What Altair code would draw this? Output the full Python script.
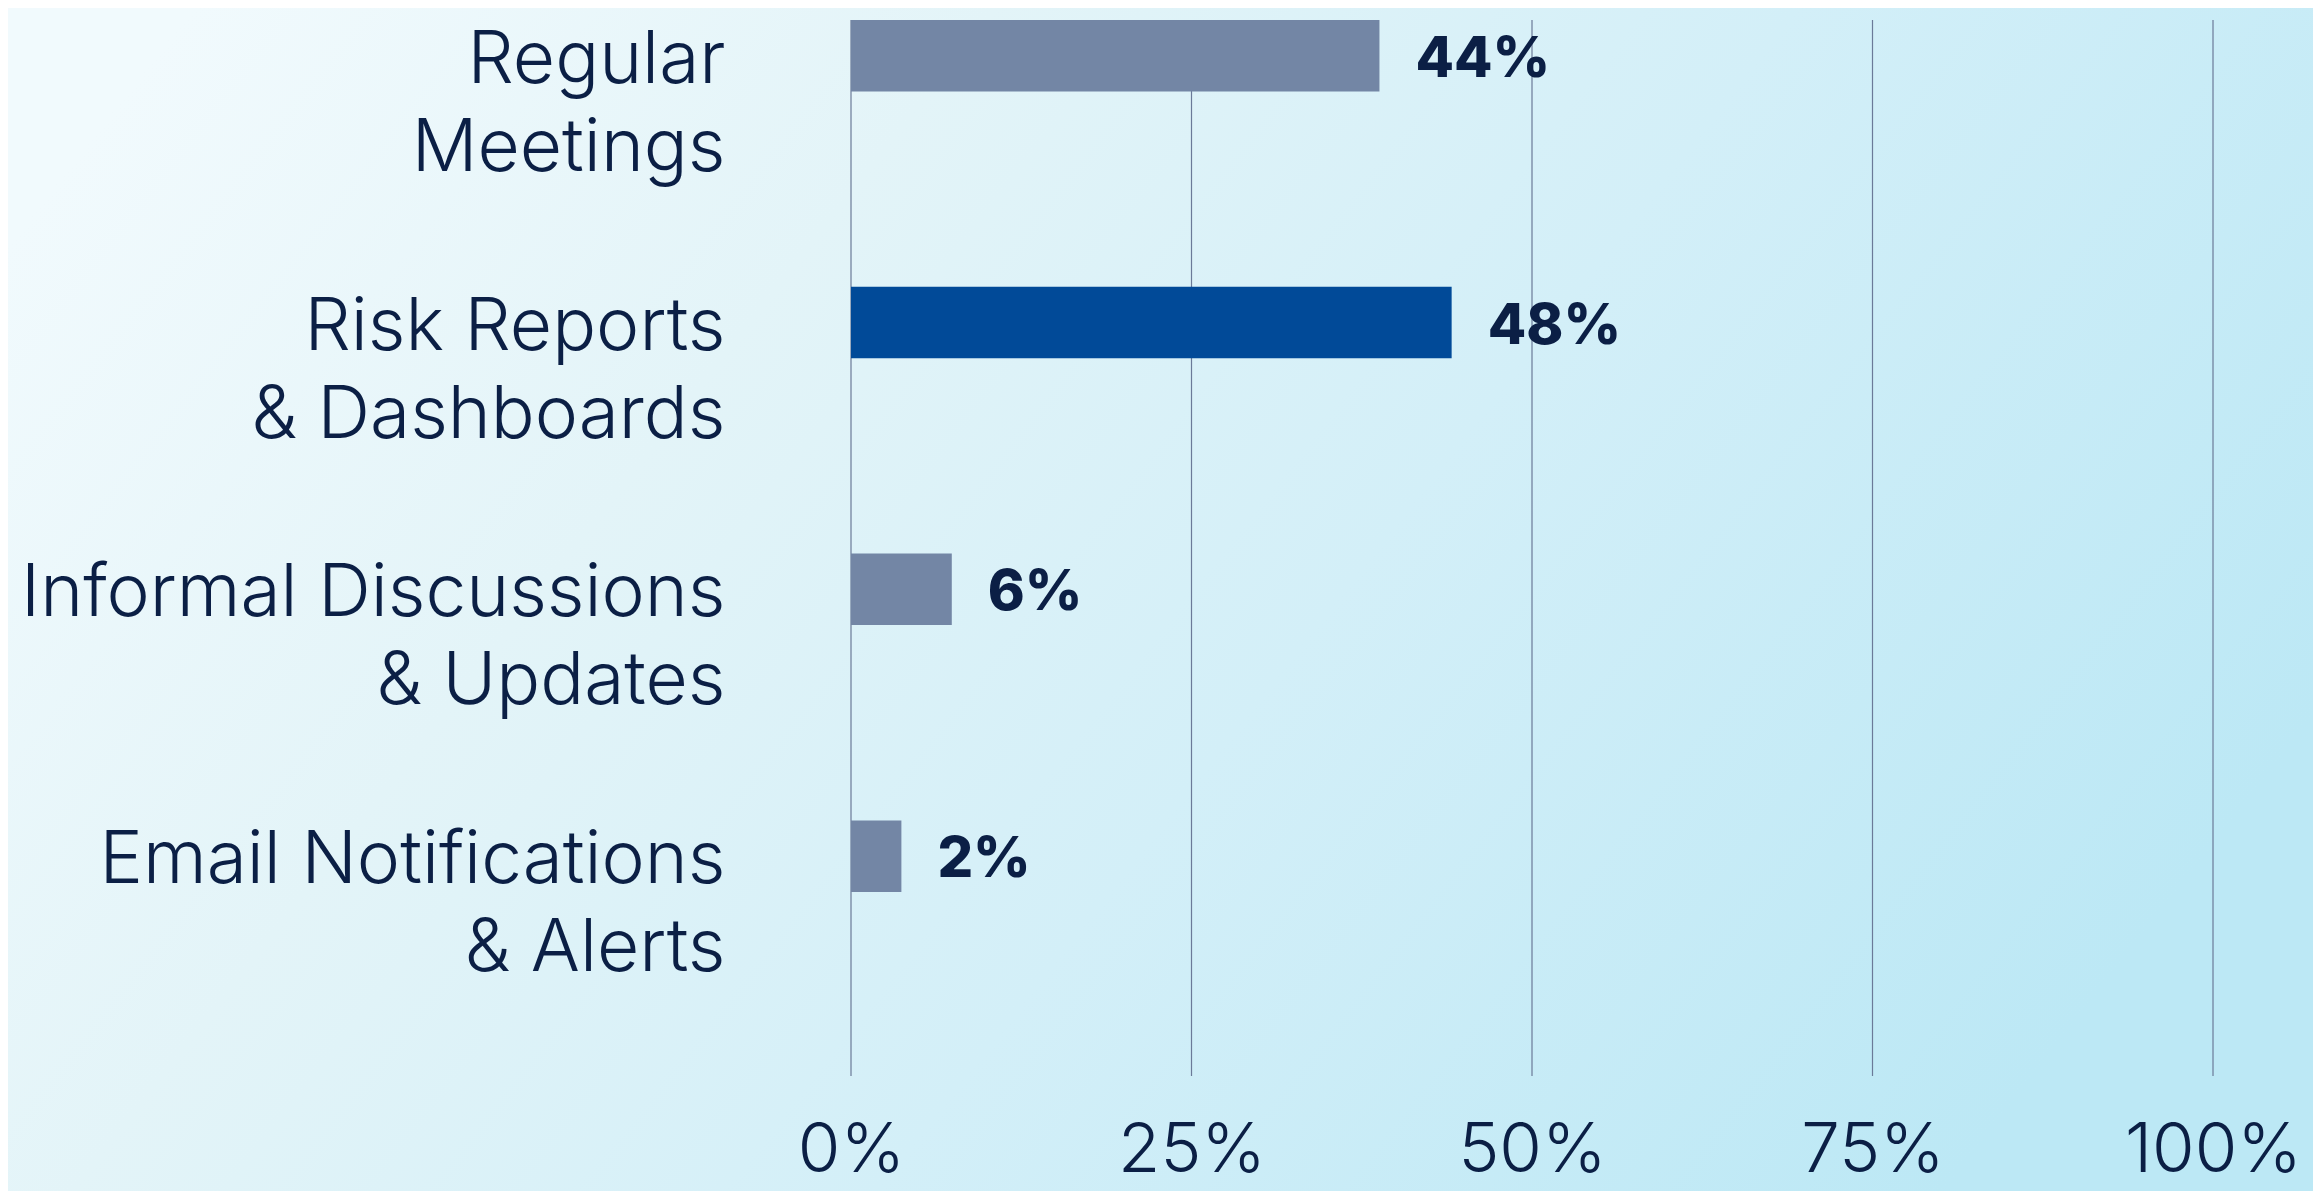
import altair as alt
import pandas as pd

# ---- data ----
categories = [
    "Regular\nMeetings",
    "Risk Reports\n& Dashboards",
    "Informal Discussions\n& Updates",
    "Email Notifications\n& Alerts",
]
bar_values = [38.8, 44.1, 7.4, 3.7]          # bar lengths as drawn (% of axis)
value_labels = ["44%", "48%", "6%", "2%"]    # printed labels
tick_values = [0, 25, 50, 75, 100]

# ---- layout / style ----
PLOT_W, PLOT_H = 1362, 1056
PAD = {"left": 843, "top": 12, "right": 100, "bottom": 115}
NAVY = "#0b1f45"
FONT = "Inter"

df = pd.DataFrame({"category": categories, "value": bar_values, "label": value_labels})
grid_df = pd.DataFrame({"value": tick_values})
bg_df = pd.DataFrame({"k": [0]})

x_enc = alt.X(
    "value:Q",
    title=None,
    scale=alt.Scale(domain=[0, 100], nice=False, zero=True),
    axis=alt.Axis(
        values=tick_values,
        labelExpr="datum.value + '%'",
        labelFont=FONT,
        labelFontSize=69,
        labelFontWeight=300,
        labelColor=NAVY,
        labelPadding=40,
        labelFlush=False,
        labelOverlap=False,
        labelLimit=1000,
        labelAlign="center",
        labelBaseline="top",
        ticks=False,
        domain=False,
        grid=False,
        zindex=1,
    ),
)

y_enc = alt.Y(
    "category:N",
    sort=categories,
    title=None,
    scale=alt.Scale(paddingInner=0.732, paddingOuter=0.345, align=0),
    axis=alt.Axis(
        labelExpr="split(datum.label, '\\n')",
        labelFont=FONT,
        labelFontSize=73,
        labelFontWeight=300,
        labelColor=NAVY,
        labelLineHeight=88,
        labelAlign="right",
        labelBaseline="top",
        labelOffset=-31,
        labelPadding=126,
        labelLimit=2000,
        ticks=False,
        domain=False,
        grid=False,
        zindex=1,
    ),
)

bg = alt.Chart(bg_df).mark_rect(
    color=alt.Gradient(
        gradient="linear",
        stops=[
            alt.GradientStop(color="#f1fafd", offset=0),
            alt.GradientStop(color="#e3f4f8", offset=0.3),
            alt.GradientStop(color="#d3eff8", offset=0.6),
            alt.GradientStop(color="#bce8f5", offset=1),
        ],
        x1=0, y1=0.2, x2=1, y2=0.6,
    )
).encode(
    x=alt.value(-PAD["left"]),
    x2=alt.value(PLOT_W + PAD["right"]),
    y=alt.value(-PAD["top"]),
    y2=alt.value(PLOT_H + PAD["bottom"]),
)

grid = alt.Chart(grid_df).mark_rule(color="#6b7a98", strokeWidth=1.2).encode(
    x=x_enc,
    y=alt.value(0),
    y2=alt.value(PLOT_H),
)

bars = alt.Chart(df).mark_bar().encode(
    x=x_enc,
    y=y_enc,
    color=alt.condition(
        "substring(datum.category, 0, 12) === 'Risk Reports'",
        alt.value("#014a98"),
        alt.value("#7386a5"),
    ),
)

text = alt.Chart(df).mark_text(
    align="left",
    baseline="middle",
    dx=36,
    dy=4,
    font=FONT,
    fontSize=56,
    fontWeight=800,
    color=NAVY,
).encode(x=x_enc, y=y_enc, text="label:N")

chart = (
    alt.layer(bg, grid, bars, text)
    .properties(
        width=PLOT_W,
        height=PLOT_H,
        autosize=alt.AutoSizeParams(type="none"),
        padding=PAD,
        background="#e2f3f8",
    )
    .configure_view(stroke=None)
)

chart.save("out.html", embed_options={"renderer": "svg", "actions": False})
